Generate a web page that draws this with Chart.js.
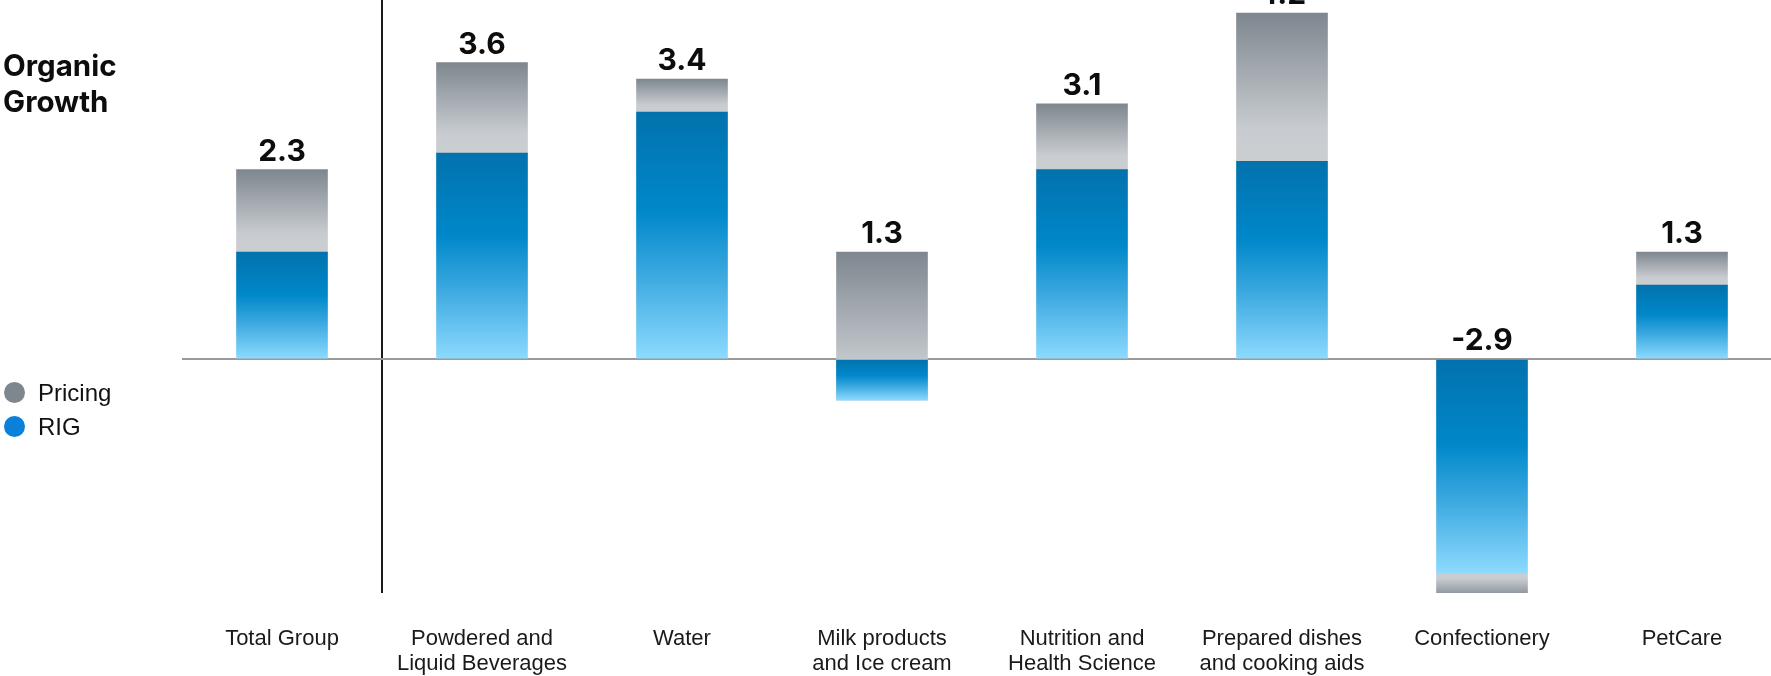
<!DOCTYPE html>
<html>
<head>
<meta charset="utf-8">
<script src="https://cdn.jsdelivr.net/npm/chart.js@4/dist/chart.umd.min.js"></script>
<style>
  html, body { margin: 0; padding: 0; background: #fff; overflow: hidden; }
  body { width: 1771px; height: 676px; position: relative; font-family: "Liberation Sans", Arial, sans-serif; }
  #chart { position: absolute; left: 0; top: 0; }
  .title { position: absolute; left: 3px; top: 47px; font-family: Inter, "Liberation Sans", sans-serif; font-weight: bold; font-size: 29.5px; line-height: 36px; color: #0d0d0d; }
  .legend-item { position: absolute; left: 4px; font-size: 24px; line-height: 30px; color: #111; }
  .legend-item .dot { position: absolute; left: 0; top: 4px; width: 21px; height: 21px; border-radius: 50%; }
  .legend-item span.txt { margin-left: 34px; }
</style>
</head>
<body>
<canvas id="chart" width="1782" height="676"></canvas>
<div class="title">Organic<br>Growth</div>
<div class="legend-item" style="top:378px"><span class="dot" style="background:#7f878e"></span><span class="txt">Pricing</span></div>
<div class="legend-item" style="top:412px"><span class="dot" style="background:#0a80d8"></span><span class="txt">RIG</span></div>
<script>
// --- DADOS ---
const categories = [
  'Total Group',
  ['Powdered and', 'Liquid Beverages'],
  'Water',
  ['Milk products', 'and Ice cream'],
  ['Nutrition and', 'Health Science'],
  ['Prepared dishes', 'and cooking aids'],
  'Confectionery',
  'PetCare'
];
const rig = [1.3, 2.5, 3.0, -0.5, 2.3, 2.4, -2.6, 0.9];
const pricing = [1.0, 1.1, 0.4, 1.8, 0.8, 1.8, -0.3, 0.4];

// barras flutuantes: RIG parte do zero, Pricing continua a partir do RIG
const rigBars = rig.map(r => [0, r]);
const pricingBars = rig.map((r, i) => [r, +(r + pricing[i]).toFixed(1)]);
const totals = rig.map((r, i) => r + pricing[i]);

// --- GRADIENTES ---
const blueGradient = (ctx) => {
  const { chart } = ctx;
  if (!chart.chartArea || !ctx.raw) return '#0088ca';
  const y = chart.scales.y;
  const a = y.getPixelForValue(ctx.raw[0]);
  const b = y.getPixelForValue(ctx.raw[1]);
  const top = Math.min(a, b), bottom = Math.max(a, b);
  const g = chart.ctx.createLinearGradient(0, top, 0, bottom + 0.01);
  g.addColorStop(0, '#0272ad');
  g.addColorStop(0.4, '#0088ca');
  g.addColorStop(0.65, '#39a7df');
  g.addColorStop(1, '#8ddafe');
  return g;
};

const greyGradient = (ctx) => {
  const { chart } = ctx;
  if (!chart.chartArea || !ctx.raw) return '#a9aeb2';
  const y = chart.scales.y;
  const far = y.getPixelForValue(ctx.raw[1]);  // lado escuro
  const near = y.getPixelForValue(ctx.raw[0]);
  const g = chart.ctx.createLinearGradient(0, far, 0, near + 0.01);
  g.addColorStop(0, '#7e878f');
  g.addColorStop(0.78, '#c8ccd0');
  g.addColorStop(1, '#cbced1');
  return g;
};

// --- RÓTULOS DE TOTAL ---
const totalLabels = {
  id: 'totalLabels',
  afterDatasetsDraw(chart) {
    const { ctx, scales } = chart;
    ctx.save();
    ctx.font = 'bold 30px Inter, "Liberation Sans", Arial, sans-serif';
    ctx.fillStyle = '#0d0d0d';
    ctx.textAlign = 'center';
    ctx.textBaseline = 'alphabetic';
    totals.forEach((t, i) => {
      const x = scales.x.getPixelForValue(i);
      const y = scales.y.getPixelForValue(Math.max(t, 0));
      ctx.fillText(t.toFixed(1), x, y - 9);
    });
    ctx.restore();
  }
};

new Chart(document.getElementById('chart').getContext('2d'), {
  type: 'bar',
  data: {
    labels: categories,
    datasets: [
      { label: 'RIG', data: rigBars, backgroundColor: blueGradient, grouped: false, barThickness: 91 },
      { label: 'Pricing', data: pricingBars, backgroundColor: greyGradient, grouped: false, barThickness: 91 }
    ]
  },
  options: {
    responsive: false,
    animation: false,
    layout: { padding: { left: 182, right: 0, top: 0, bottom: 0 } },
    plugins: { legend: { display: false }, tooltip: { enabled: false } },
    scales: {
      x: {
        afterFit: (scale) => { scale.height = 83; },
        border: { display: false },
        grid: {
          offset: true,
          drawTicks: false,
          lineWidth: 2,
          color: (c) => c.index === 1 ? '#1a1a1a' : 'rgba(0,0,0,0)'
        },
        ticks: {
          color: '#1a1a1a',
          padding: 34,
          maxRotation: 0,
          autoSkip: false,
          font: { family: '"Liberation Sans", Arial, sans-serif', size: 22, lineHeight: 1.13 }
        }
      },
      y: {
        min: -2.84,
        max: 4.36,
        border: { display: false },
        grid: {
          drawTicks: false,
          lineWidth: 2,
          color: (c) => c.tick && c.tick.value === 0 ? '#9a9a9a' : 'rgba(0,0,0,0)'
        },
        ticks: { display: false, stepSize: 1 }
      }
    }
  },
  plugins: [totalLabels]
});
</script>
</body>
</html>
